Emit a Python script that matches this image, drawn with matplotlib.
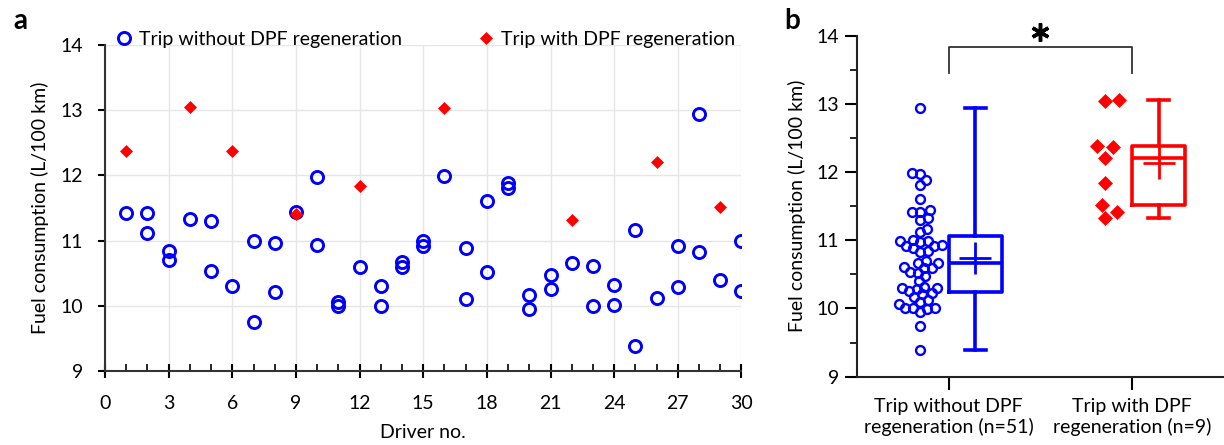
import numpy as np
import matplotlib
matplotlib.use("Agg")
import matplotlib.pyplot as plt
from matplotlib.ticker import MultipleLocator
from matplotlib import cbook

plt.rcParams['font.family'] = ['Lato', 'DejaVu Sans']

# ---------------- data ----------------
drivers_no_regen = [1, 2, 2, 3, 3, 4, 5, 5, 6, 7, 7, 8, 8, 9, 10, 10, 11, 11, 12, 13, 13,
                    14, 14, 15, 15, 16, 17, 17, 18, 18, 19, 19, 20, 20, 21, 21, 22, 23, 23,
                    24, 24, 25, 25, 26, 27, 27, 28, 28, 29, 30, 30]
fuel_no_regen = [11.42, 11.42, 11.12, 10.84, 10.70, 11.33, 11.30, 10.54, 10.30, 10.99, 9.75,
                 10.97, 10.21, 11.44, 11.97, 10.93, 10.06, 9.99, 10.60, 10.30, 10.00,
                 10.67, 10.59, 10.99, 10.92, 11.99, 10.88, 10.10, 11.61, 10.52, 11.88, 11.81,
                 10.17, 9.95, 10.47, 10.26, 10.66, 10.61, 10.00, 10.32, 10.01, 11.16, 9.39,
                 10.12, 10.91, 10.29, 12.94, 10.83, 10.40, 11.00, 10.22]
drivers_regen = [1, 4, 6, 9, 12, 16, 22, 26, 29]
fuel_regen = [12.37, 13.05, 12.38, 11.41, 11.84, 13.04, 11.32, 12.21, 11.52]

group_labels = ["Trip without DPF\nregeneration (n=51)", "Trip with DPF\nregeneration (n=9)"]
legend_labels = ["Trip without DPF regeneration", "Trip with DPF regeneration"]
ylabel = "Fuel consumption (L/100 km)"

BLUE = "#0000FF"
RED = "#FF0000"

fig = plt.figure(figsize=(12.24, 4.45), dpi=100)

# ---------------- panel a ----------------
axa = fig.add_axes([0.0858, 0.1663, 0.5200, 0.7326])
axa.plot(drivers_no_regen, fuel_no_regen, 'o', ls='none', mfc='none', mec=BLUE,
         ms=8.7, mew=2.1, label=legend_labels[0], zorder=3)
axa.plot(drivers_regen, fuel_regen, 'D', ls='none', mfc=RED, mec=RED,
         ms=6.3, mew=0.5, label=legend_labels[1], zorder=4)
axa.set_xlim(0, 30)
axa.set_ylim(9, 14)
axa.xaxis.set_major_locator(MultipleLocator(3))
axa.xaxis.set_minor_locator(MultipleLocator(1))
axa.yaxis.set_major_locator(MultipleLocator(1))
axa.grid(True, which='major', color='#e6e6e6', lw=1.0, zorder=0)
axa.set_axisbelow(True)
for s in ['top', 'right']:
    axa.spines[s].set_visible(False)
for s in ['left', 'bottom']:
    axa.spines[s].set_linewidth(1.5)
    axa.spines[s].set_color('#333333')
axa.tick_params(axis='x', which='major', direction='inout', length=10, width=1.5, labelsize=14, pad=12)
axa.tick_params(axis='x', which='minor', direction='in', length=5, width=1.2)
axa.tick_params(axis='y', which='major', direction='out', length=5, width=1.5, labelsize=14, pad=11)
axa.set_xlabel("Driver no.", fontsize=14, labelpad=9)
axa.set_ylabel(ylabel, fontsize=14, labelpad=8)
axa.legend(loc='lower left', bbox_to_anchor=(0.02, 0.99), ncol=2, frameon=False,
           fontsize=14, handlelength=0.6, handletextpad=0.5, columnspacing=4.0,
           borderaxespad=0.0, borderpad=0.0)
fig.text(0.011, 0.935, "a", fontsize=20, fontweight='bold')

# ---------------- panel b ----------------
axb = fig.add_axes([0.700, 0.1535, 0.300, 0.7663])
axb.set_xlim(0.5, 2.5)
axb.set_ylim(9, 14)

groups = [np.array(fuel_no_regen), np.array(fuel_regen)]
colors = [BLUE, RED]
box_off = 0.145
box_w = 0.29

stats = cbook.boxplot_stats(groups, whis=(0, 100))
positions = [1 + box_off, 2 + box_off]
bp = axb.bxp(stats, positions=positions, widths=box_w, showfliers=False,
             showmeans=False, manage_ticks=False, patch_artist=False)
for i, c in enumerate(colors):
    bp['boxes'][i].set(color=c, lw=2.6)
    bp['medians'][i].set(color=c, lw=2.6)
    for w in bp['whiskers'][2 * i:2 * i + 2]:
        w.set(color=c, lw=2.6)
    for cap in bp['caps'][2 * i:2 * i + 2]:
        cap.set(color=c, lw=2.6)
        xd = cap.get_xdata()
        cx = np.mean(xd)
        cap.set_xdata([cx - 0.058, cx + 0.058])
    axb.plot([positions[i]], [np.mean(groups[i])], marker='+', color=c, ms=23, mew=2.0, zorder=5)

# swarm layout for individual points
fig.canvas.draw()

def swarm(values, center, diam_px, ax):
    order = np.argsort(values)
    placed = []
    xs = np.zeros(len(values))
    trans = ax.transData
    px_per_x = trans.transform((1, 0))[0] - trans.transform((0, 0))[0]
    px_per_y = trans.transform((0, 1))[1] - trans.transform((0, 0))[1]
    for idx in order:
        y = values[idx] * px_per_y
        best = None
        cands = [0.0]
        for p in placed:
            dy = y - p[1]
            if abs(dy) < diam_px:
                dx = np.sqrt(diam_px ** 2 - dy ** 2)
                cands += [p[0] + dx, p[0] - dx]
        cands = sorted(cands, key=abs)
        for cx in cands:
            ok = True
            for p in placed:
                if (cx - p[0]) ** 2 + (y - p[1]) ** 2 < diam_px ** 2 - 1e-6:
                    ok = False
                    break
            if ok:
                best = cx
                break
        placed.append((best, y))
        xs[idx] = center + best / px_per_x
    return xs

xb = swarm(groups[0], 0.845, 7.8, axb)
xr = swarm(groups[1], 1.85, 14.0, axb)
axb.plot(xb, groups[0], 'o', ls='none', mfc='none', mec=BLUE, ms=6.4, mew=1.7, zorder=3)
axb.plot(xr, groups[1], 'D', ls='none', mfc=RED, mec=RED, ms=6.8, mew=0.5, zorder=3)

axb.set_xticks([1, 2])
axb.set_xticklabels(group_labels, fontsize=14, linespacing=1.25)
axb.yaxis.set_major_locator(MultipleLocator(1))
axb.yaxis.set_minor_locator(MultipleLocator(0.5))
for s in ['top', 'right']:
    axb.spines[s].set_visible(False)
for s in ['left', 'bottom']:
    axb.spines[s].set_linewidth(1.5)
    axb.spines[s].set_color('#222222')
axb.tick_params(axis='x', which='major', direction='out', length=9, width=1.5, pad=6)
axb.tick_params(axis='y', which='major', direction='out', length=9, width=1.5, labelsize=14)
axb.tick_params(axis='y', which='minor', direction='out', length=5, width=1.2)
axb.set_ylabel(ylabel, fontsize=14, labelpad=8)

# significance bracket
axb.plot([1, 1, 2, 2], [13.46, 13.83, 13.83, 13.46], color='#333333', lw=1.3, clip_on=False)
axb.plot([1.5], [14.06], marker=(6, 2, 0), ms=13, mew=2.5, color='black', clip_on=False, zorder=6)
fig.text(0.641, 0.935, "b", fontsize=20, fontweight='bold')

fig.savefig("out.png", dpi=100)
